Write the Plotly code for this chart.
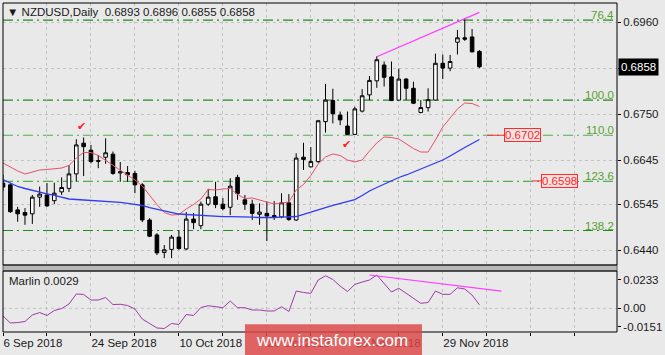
import plotly.graph_objects as go

# ---------------- data ----------------
date_labels = ["6 Sep 2018", "24 Sep 2018", "10 Oct 2018", "26 Oct 2018", "13 Nov 2018", "29 Nov 2018"]

opens = [0.6593, 0.6589, 0.6532, 0.6526, 0.6523, 0.6561, 0.6566, 0.6553, 0.6573, 0.6581,
         0.6614, 0.6684, 0.6668, 0.6644, 0.6652, 0.6659, 0.6616, 0.6617, 0.6615, 0.6589,
         0.6509, 0.6475, 0.6435, 0.6442, 0.6470, 0.6443, 0.6511, 0.6496, 0.6545, 0.6562,
         0.6545, 0.6538, 0.6606, 0.6555, 0.6545, 0.6522, 0.6524, 0.6519, 0.6516, 0.6548,
         0.6509, 0.6652, 0.6630, 0.6642, 0.6733, 0.6781, 0.6748, 0.6723, 0.6704, 0.6757,
         0.6794, 0.6826, 0.6862, 0.6835, 0.6782, 0.6830, 0.6809, 0.6754, 0.6765, 0.6782,
         0.6866, 0.6855, 0.6914, 0.6924, 0.6926, 0.6893]
highs = [0.6612, 0.6593, 0.6539, 0.6536, 0.6566, 0.6585, 0.6593, 0.6594, 0.6606, 0.6634,
         0.6693, 0.6697, 0.6680, 0.6657, 0.6695, 0.6665, 0.6641, 0.6632, 0.6621, 0.6593,
         0.6513, 0.6479, 0.6452, 0.6475, 0.6486, 0.6527, 0.6525, 0.6551, 0.6580, 0.6596,
         0.6559, 0.6604, 0.6612, 0.6566, 0.6555, 0.6547, 0.6551, 0.6552, 0.6570, 0.6568,
         0.6661, 0.6685, 0.6675, 0.6737, 0.6819, 0.6808, 0.6756, 0.6756, 0.6767, 0.6807,
         0.6837, 0.6882, 0.6870, 0.6870, 0.6854, 0.6832, 0.6824, 0.6782, 0.6809, 0.6888,
         0.6886, 0.6885, 0.6942, 0.6968, 0.6944, 0.6896]
lows = [0.6575, 0.6525, 0.6505, 0.6498, 0.6500, 0.6539, 0.6539, 0.6545, 0.6566, 0.6573,
        0.6596, 0.6609, 0.6638, 0.6627, 0.6637, 0.6612, 0.6596, 0.6596, 0.6570, 0.6504,
        0.6470, 0.6429, 0.6422, 0.6422, 0.6441, 0.6440, 0.6488, 0.6488, 0.6541, 0.6536,
        0.6531, 0.6520, 0.6555, 0.6532, 0.6509, 0.6498, 0.6461, 0.6509, 0.6513, 0.6507,
        0.6507, 0.6623, 0.6629, 0.6639, 0.6708, 0.6729, 0.6725, 0.6703, 0.6703, 0.6754,
        0.6782, 0.6810, 0.6813, 0.6782, 0.6781, 0.6782, 0.6773, 0.6752, 0.6756, 0.6781,
        0.6830, 0.6848, 0.6886, 0.6917, 0.6891, 0.6855]
closes = [0.6584, 0.6528, 0.6523, 0.6520, 0.6561, 0.6568, 0.6541, 0.6570, 0.6583, 0.6614,
          0.6680, 0.6676, 0.6642, 0.6643, 0.6662, 0.6615, 0.6619, 0.6612, 0.6589, 0.6509,
          0.6472, 0.6434, 0.6441, 0.6470, 0.6444, 0.6511, 0.6503, 0.6545, 0.6561, 0.6544,
          0.6535, 0.6586, 0.6569, 0.6545, 0.6524, 0.6527, 0.6518, 0.6515, 0.6548, 0.6510,
          0.6650, 0.6647, 0.6642, 0.6735, 0.6782, 0.6751, 0.6737, 0.6704, 0.6762, 0.6792,
          0.6827, 0.6874, 0.6834, 0.6781, 0.6830, 0.6809, 0.6775, 0.6765, 0.6783, 0.6866,
          0.6855, 0.6870, 0.6924, 0.6921, 0.6892, 0.6858]

red_ma = [0.66388, 0.66297, 0.66206, 0.66137, 0.66183, 0.66228, 0.66240, 0.66251, 0.66274, 0.66331,
          0.66502, 0.66627, 0.66627, 0.66559, 0.66445, 0.66342, 0.66228, 0.66115, 0.66001, 0.65864,
          0.65648, 0.65443, 0.65260, 0.65203, 0.65215, 0.65340, 0.65443, 0.65568, 0.65784, 0.65773,
          0.65796, 0.65807, 0.65670, 0.65579, 0.65591, 0.65545, 0.65488, 0.65454, 0.65477, 0.65499,
          0.65773, 0.65898, 0.66103, 0.66365, 0.66525, 0.66593, 0.66559, 0.66456, 0.66411, 0.66456,
          0.66661, 0.66844, 0.66980, 0.66969, 0.66935, 0.66832, 0.66718, 0.66638, 0.66638, 0.66912,
          0.67208, 0.67413, 0.67618, 0.67755, 0.67743, 0.67675]
blue_ma = [0.66012, 0.65932, 0.65853, 0.65807, 0.65761, 0.65716, 0.65682, 0.65648, 0.65613, 0.65568,
           0.65556, 0.65545, 0.65538, 0.65531, 0.65522, 0.65511, 0.65493, 0.65470, 0.65447, 0.65420,
           0.65374, 0.65333, 0.65294, 0.65260, 0.65226, 0.65215, 0.65203, 0.65199, 0.65181, 0.65165,
           0.65165, 0.65165, 0.65165, 0.65158, 0.65153, 0.65146, 0.65142, 0.65146, 0.65153, 0.65158,
           0.65169, 0.65215, 0.65272, 0.65317, 0.65374, 0.65420, 0.65470, 0.65515, 0.65556, 0.65648,
           0.65750, 0.65830, 0.65910, 0.65989, 0.66058, 0.66115, 0.66183, 0.66251, 0.66320, 0.66377,
           0.66456, 0.66547, 0.66650, 0.66741, 0.66832, 0.66923]
marlin = [-0.0063, -0.0121, -0.0117, -0.0109, -0.0055, -0.0035, -0.0059, -0.0018, -0.0002, 0.0035,
          0.0118, 0.0114, 0.0068, 0.0068, 0.0089, 0.0031, 0.0033, 0.0023, -0.0006, -0.0088,
          -0.0125, -0.0162, -0.0166, -0.0125, -0.0133, -0.0051, -0.0059, 0.0007, 0.0021, 0.0011,
          0.0005, 0.0060, 0.0005, 0.0005, -0.0014, -0.0014, -0.0022, -0.0022, 0.0013, -0.0026,
          0.0142, 0.0130, 0.0123, 0.0233, 0.0268, 0.0237, 0.0183, 0.0138, 0.0197, 0.0216,
          0.0233, 0.0274, 0.0204, 0.0134, 0.0165, 0.0122, 0.0081, 0.0041, 0.0048, 0.0142,
          0.0115, 0.0115, 0.0169, 0.0159, 0.0109, 0.0029]

trend_main_x = [51, 65]
trend_main_y = [0.6881, 0.6982]
trend_ind_x = [50, 68]
trend_ind_y = [0.0274, 0.0142]

fib_names = ["76.4", "100.0", "110.0", "123.6", "138.2"]
fib_prices = [0.69645, 0.6782, 0.6702, 0.6597, 0.6485]
fib_colors = ["#1f8a1f", "#1f8a1f", "#4fae4f", "#4fae4f", "#1f8a1f"]

target_prices = [0.6702, 0.6598]
target_text = ["0.6702", "0.6598"]

check_x = [10.7, 46.8]
check_y = [0.6722, 0.6680]

price_ticks = [0.6440, 0.6545, 0.6645, 0.6750, 0.6855, 0.6960]
price_tick_text = ["0.6440", "0.6545", "0.6645", "0.6750", "", "0.6960"]
ind_ticks = [-0.0151, 0.0, 0.0233]
ind_tick_text = ["-0.0151", "0.00", "0.0233"]

last_price = 0.6858
header = "▼ NZDUSD,Daily&nbsp;&nbsp;0.6893 0.6896 0.6855 0.6858"
marlin_label = "Marlin 0.0029"

# ---------------- figure ----------------
bg = "#e9e9e9"
grid = "#c2c2c2"
FONT = "Liberation Sans"
n = len(opens)
xs = list(range(n))

fig = go.Figure()
fig.add_trace(go.Candlestick(
    x=xs, open=opens, high=highs, low=lows, close=closes,
    increasing=dict(fillcolor="white", line=dict(color="black", width=1)),
    decreasing=dict(fillcolor="black", line=dict(color="black", width=1)),
    whiskerwidth=0, xaxis="x", yaxis="y", hoverinfo="skip"))
fig.add_trace(go.Scatter(x=xs, y=red_ma, mode="lines", line=dict(color="#e8506c", width=1),
                         xaxis="x", yaxis="y", hoverinfo="skip"))
fig.add_trace(go.Scatter(x=xs, y=blue_ma, mode="lines", line=dict(color="#2f3cf2", width=1.3),
                         xaxis="x", yaxis="y", hoverinfo="skip"))
fig.add_trace(go.Scatter(x=trend_main_x, y=trend_main_y, mode="lines",
                         line=dict(color="#ff3cff", width=1.2), xaxis="x", yaxis="y"))
fig.add_trace(go.Scatter(x=xs, y=marlin, mode="lines", line=dict(color="#a03aa8", width=1),
                         xaxis="x", yaxis="y2", hoverinfo="skip"))
fig.add_trace(go.Scatter(x=trend_ind_x, y=trend_ind_y, mode="lines",
                         line=dict(color="#ff3cff", width=1.2), xaxis="x", yaxis="y2"))

main_dom = [0.2036, 1.0]
ind_dom = [0.0, 0.1854]

xt = list(range(0, 84, 6))
xtt = []
for v in xt:
    k = v // 12
    xtt.append(date_labels[k] if v % 12 == 0 and k < len(date_labels) else "")

shapes = []
annotations = []
# fib lines and labels
for name, p, c in zip(fib_names, fib_prices, fib_colors):
    shapes.append(dict(type="line", xref="paper", yref="y", x0=0, x1=1, y0=p, y1=p,
                       line=dict(color=c, width=1.2, dash="10px,4px,2px,4px"), layer="below"))
    annotations.append(dict(xref="paper", yref="y", x=0.9967, y=p, xanchor="right", yanchor="bottom",
                            text=name, showarrow=False, borderpad=0, yshift=-2,
                            font=dict(family=FONT, size=11.5, color="#5a9e2e")))
# zero line in indicator
shapes.append(dict(type="line", xref="paper", yref="y2", x0=0, x1=1, y0=0, y1=0,
                   line=dict(color=grid, width=1, dash="3px,3px"), layer="below"))
# target labels
tgt_line = [(66.0, 68.35), (72.2, 73.4)]
for (a, b), p, t in zip(tgt_line, target_prices, target_text):
    shapes.append(dict(type="line", xref="x", yref="y", x0=a, x1=b, y0=p, y1=p,
                       line=dict(color="#ff2a2a", width=1)))
    annotations.append(dict(xref="x", yref="y", x=b, y=p, xanchor="left", yanchor="middle",
                            text=t, showarrow=False, borderpad=0, borderwidth=1,
                            bordercolor="#ff2a2a", bgcolor="#f3e2e2",
                            font=dict(family=FONT, size=11.5, color="#ff2a2a")))
# check marks
for cx, cy in zip(check_x, check_y):
    annotations.append(dict(xref="x", yref="y", x=cx, y=cy, text="✔", showarrow=False,
                            font=dict(family="DejaVu Sans", size=11, color="#ff2020")))
# frames
shapes.append(dict(type="rect", xref="paper", yref="paper", x0=0, x1=1, y0=ind_dom[1], y1=main_dom[0],
                   fillcolor="#b8b8b8", line=dict(color="#606060", width=1), layer="above"))
shapes.append(dict(type="rect", xref="paper", yref="paper", x0=0, x1=1, y0=main_dom[0], y1=main_dom[1],
                   line=dict(color="black", width=1), layer="above"))
shapes.append(dict(type="rect", xref="paper", yref="paper", x0=0, x1=1, y0=ind_dom[0], y1=ind_dom[1],
                   line=dict(color="black", width=1), layer="above"))
# watermark
shapes.append(dict(type="rect", xref="paper", yref="paper", x0=0.3941, x1=0.6824, y0=-0.07, y1=0.0235,
                   fillcolor="rgba(222,70,70,0.82)", line=dict(width=0), layer="above"))
annotations.append(dict(xref="paper", yref="paper", x=0.5355, y=-0.025, text="www.instaforex.com",
                        showarrow=False, xanchor="center", yanchor="middle",
                        font=dict(family=FONT, size=17, color="white")))
# header, indicator label, current price
annotations.append(dict(xref="paper", yref="paper", x=0.0035, y=0.9726, xanchor="left", yanchor="middle",
                        text=header, showarrow=False, font=dict(family=FONT, size=11.5, color="#1a1a1a")))
annotations.append(dict(xref="paper", yref="paper", x=0.0065, y=0.155, xanchor="left", yanchor="middle",
                        text=marlin_label, showarrow=False, font=dict(family=FONT, size=11.5, color="#1a1a1a")))
annotations.append(dict(xref="paper", yref="y", x=1.0, y=last_price, xanchor="left", yanchor="middle",
                        text="0.6858", showarrow=False, bgcolor="black", borderpad=2, xshift=1,
                        font=dict(family=FONT, size=11.5, color="white")))

fig.update_layout(
    width=665, height=355,
    margin=dict(l=3, r=48, t=3, b=23),
    plot_bgcolor=bg, paper_bgcolor=bg,
    showlegend=False,
    font=dict(family=FONT, size=11.5, color="#1a1a1a"),
    xaxis=dict(domain=[0, 1], anchor="y2", range=[0, 83.77], tickvals=xt, ticktext=xtt,
               ticklabelposition="outside right", ticks="outside", ticklen=3, tickcolor="black",
               showgrid=True, gridcolor=grid, griddash="3px,3px", zeroline=False,
               showline=False, rangeslider=dict(visible=False), fixedrange=True),
    yaxis=dict(domain=main_dom, anchor="x", side="right", range=[0.64064, 0.70033],
               tickvals=price_ticks, ticktext=price_tick_text, ticks="outside", ticklen=3,
               tickcolor="black", showgrid=True, gridcolor=grid, griddash="3px,3px",
               zeroline=False, showline=False),
    yaxis2=dict(domain=ind_dom, anchor="x", side="right", range=[-0.0195, 0.0307],
                tickvals=ind_ticks, ticktext=ind_tick_text, ticks="outside", ticklen=3,
                tickcolor="black", showgrid=False, zeroline=False, showline=False),
    shapes=shapes,
    annotations=annotations,
)

fig.write_html("out.html")
